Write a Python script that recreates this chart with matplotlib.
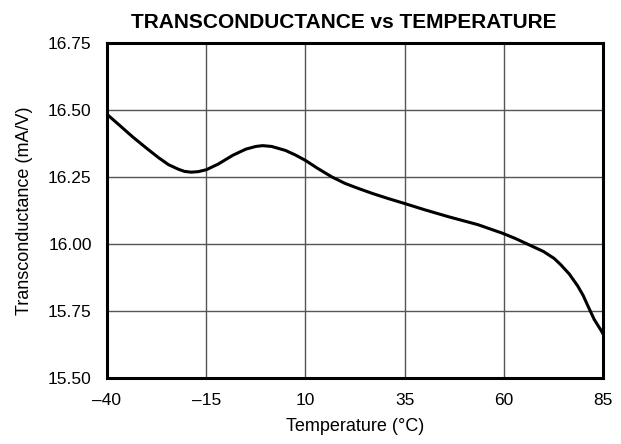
import matplotlib
matplotlib.use('Agg')
import matplotlib.pyplot as plt

# values
temperature = [-40, -37, -33.4, -30, -27, -24.5, -22, -20.5, -18.8, -17, -15, -12, -8.3,
               -5, -2.5, -0.8, 1.5, 5, 7.5, 10, 13, 16.7, 20, 23.4, 27, 31, 34.8, 40, 46,
               53.5, 59.7, 63, 66.5, 70, 72.7, 74.4, 76.5, 78.6, 80, 81.1, 82.8, 84.5, 85]
transconductance = [16.484, 16.445, 16.398, 16.357, 16.322, 16.296, 16.279, 16.271, 16.268,
                    16.270, 16.277, 16.298, 16.331, 16.354, 16.364, 16.367, 16.364, 16.349,
                    16.332, 16.312, 16.283, 16.250, 16.226, 16.207, 16.188, 16.169, 16.152,
                    16.128, 16.102, 16.072, 16.040, 16.020, 15.996, 15.972, 15.946, 15.922,
                    15.888, 15.844, 15.808, 15.772, 15.718, 15.678, 15.665]

x_ticks = [-40, -15, 10, 35, 60, 85]
y_ticks = [15.50, 15.75, 16.00, 16.25, 16.50, 16.75]

plt.rcParams['font.family'] = ['Liberation Sans', 'DejaVu Sans']

fig = plt.figure(figsize=(6.21, 4.44), dpi=100)
# axes box: x 107..603, y 43..378 px
ax = fig.add_axes([107 / 621, 1 - 378 / 444, 496 / 621, 335 / 444])

ax.plot(temperature, transconductance, color='black', lw=2.2, solid_joinstyle='round')

ax.set_xlim(-40, 85)
ax.set_ylim(15.50, 16.75)
ax.set_xticks(x_ticks)
ax.set_xticklabels([str(t).replace('-', '\u2013') for t in x_ticks])
ax.set_yticks(y_ticks)
ax.set_yticklabels(['%.2f' % v for v in y_ticks])
ax.tick_params(length=0, labelsize=12.5)
ax.tick_params(axis='x', pad=11)
ax.tick_params(axis='y', pad=11)

ax.grid(True, color='#555555', lw=1.0)
for s in ax.spines.values():
    s.set_linewidth(2.2)
    s.set_color('black')

ax.set_xlabel('Temperature (\u00b0C)', fontsize=13, labelpad=7)
ax.set_ylabel('Transconductance (mA/V)', fontsize=13, labelpad=11)
ax.set_title('TRANSCONDUCTANCE vs TEMPERATURE', fontsize=15, fontweight='bold',
             pad=11, x=(344 - 107) / 496)

fig.savefig('out.png', dpi=100)
